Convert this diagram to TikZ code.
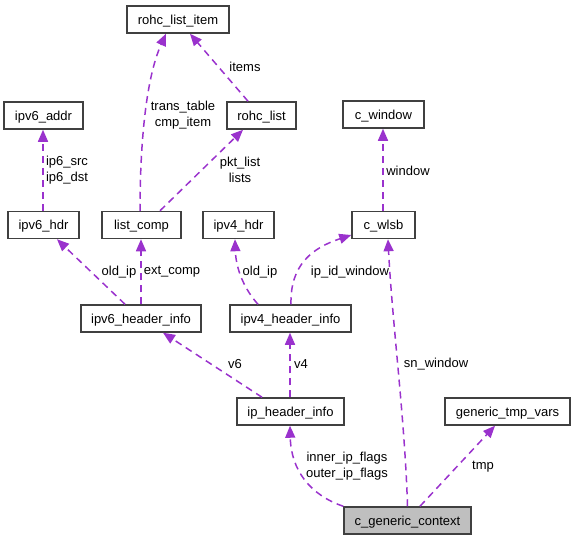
\documentclass[tikz,border=0pt]{standalone}
\usepackage{fontspec}
\setmainfont{Liberation Sans}
\usetikzlibrary{arrows.meta}
\definecolor{edgecol}{HTML}{9A32CD}
\definecolor{hilite}{HTML}{BFBFBF}
\definecolor{boxline}{HTML}{404040}
\tikzset{
  cls/.style={draw=boxline, line width=1.5pt, fill=white, minimum height=27pt, inner sep=0pt,
    text height=9.5pt, text depth=0pt, font=\fontsize{13}{16}\selectfont},
  rel/.style={draw=edgecol, line width=1.5pt, dash pattern=on 7pt off 5pt,
    -{Triangle[length=12pt,width=10pt,fill=edgecol]}},
  lbl/.style={inner sep=0pt, align=center, font=\fontsize{13}{16}\selectfont}
}
\begin{document}
\begin{tikzpicture}[x=1pt,y=-1pt]
\useasboundingbox (0,0) rectangle (576,541);
% nodes
\node[cls, minimum width=102pt] (rli) at (178,19.5) {rohc\_list\_item};
\node[cls, minimum width=79pt] (v6a) at (43.5,115.5) {ipv6\_addr};
\node[cls, minimum width=69pt] (rl) at (261.5,115.5) {rohc\_list};
\node[cls, minimum width=81pt] (cw) at (383.5,114.5) {c\_window};
\node[cls, minimum width=71pt] (v6h) at (43.5,225) {ipv6\_hdr};
\node[cls, minimum width=79pt] (lc) at (141.5,225) {list\_comp};
\node[cls, minimum width=71pt] (v4h) at (238.5,225) {ipv4\_hdr};
\node[cls, minimum width=63pt] (wl) at (383.5,225) {c\_wlsb};
\node[cls, minimum width=120pt] (v6i) at (141,318.5) {ipv6\_header\_info};
\node[cls, minimum width=121pt] (v4i) at (290.5,318.5) {ipv4\_header\_info};
\node[cls, minimum width=107pt] (ipi) at (290.5,411.5) {ip\_header\_info};
\node[cls, minimum width=125pt] (gtv) at (507.5,411.5) {generic\_tmp\_vars};
\node[cls, minimum width=127pt, fill=hilite] (gc) at (407.5,520.5) {c\_generic\_context};
% edges
\draw[rel] ([xshift=-1.5pt]lc.north) .. controls (140,150) and (145,80) .. ([xshift=-12pt]rli.south);
\draw[rel] ([xshift=-13.5pt]rl.north) -- ([xshift=12pt]rli.south);
\draw[rel] ([xshift=18.5pt]lc.north) -- ([xshift=-18.5pt]rl.south);
\draw[rel] ([xshift=-0.5pt]v6h.north) -- ([xshift=-0.5pt]v6a.south);
\draw[rel] ([xshift=-16pt]v6i.north) -- ([xshift=13.5pt]v6h.south);
\draw[rel] (v6i.north) -- ([xshift=-0.5pt]lc.south);
\draw[rel] ([xshift=-32.5pt]v4i.north) .. controls (245,290) and (236,270) .. ([xshift=-3.5pt]v4h.south);
\draw[rel] ([xshift=0.5pt]v4i.north) .. controls (290,265) and (312,248) .. ([yshift=-10pt]wl.west);
\draw[rel] ([xshift=-0.5pt]wl.north) -- ([xshift=-0.5pt]cw.south);
\draw[rel] ([xshift=-28.5pt]ipi.north) -- ([xshift=22pt]v6i.south);
\draw[rel] ([xshift=-0.5pt]ipi.north) -- ([xshift=-0.5pt]v4i.south);
\draw[rel] (gc.north west) .. controls (310,495) and (291,470) .. ([xshift=-0.5pt]ipi.south);
\draw[rel] (gc.north) .. controls (405,420) and (392,320) .. ([xshift=4.5pt]wl.south);
\draw[rel] ([xshift=12.5pt]gc.north) -- ([xshift=-12.5pt]gtv.south);
% labels
\node[lbl] (l1) at (183,115) {trans\_table\\cmp\_item};
\node[lbl] (l2) at (245,67) {items};
\node[lbl] (l3) at (240,170) {pkt\_list\\lists};
\node[lbl] (l4) at (67,170) {ip6\_src\\ip6\_dst};
\node[lbl] (l5) at (408,171) {window};
\node[lbl] (l6) at (119,272) {old\_ip};
\node[lbl] (l7) at (172,272) {ext\_comp};
\node[lbl] (l8) at (260,272) {old\_ip};
\node[lbl] (l9) at (350,272) {ip\_id\_window};
\node[lbl] (l10) at (235,364) {v6};
\node[lbl] (l11) at (301,364) {v4};
\node[lbl] (l12) at (436,364) {sn\_window};
\node[lbl] (l13) at (347,466) {inner\_ip\_flags\\outer\_ip\_flags};
\node[lbl] (l14) at (483,467) {tmp};
\end{tikzpicture}
\end{document}
